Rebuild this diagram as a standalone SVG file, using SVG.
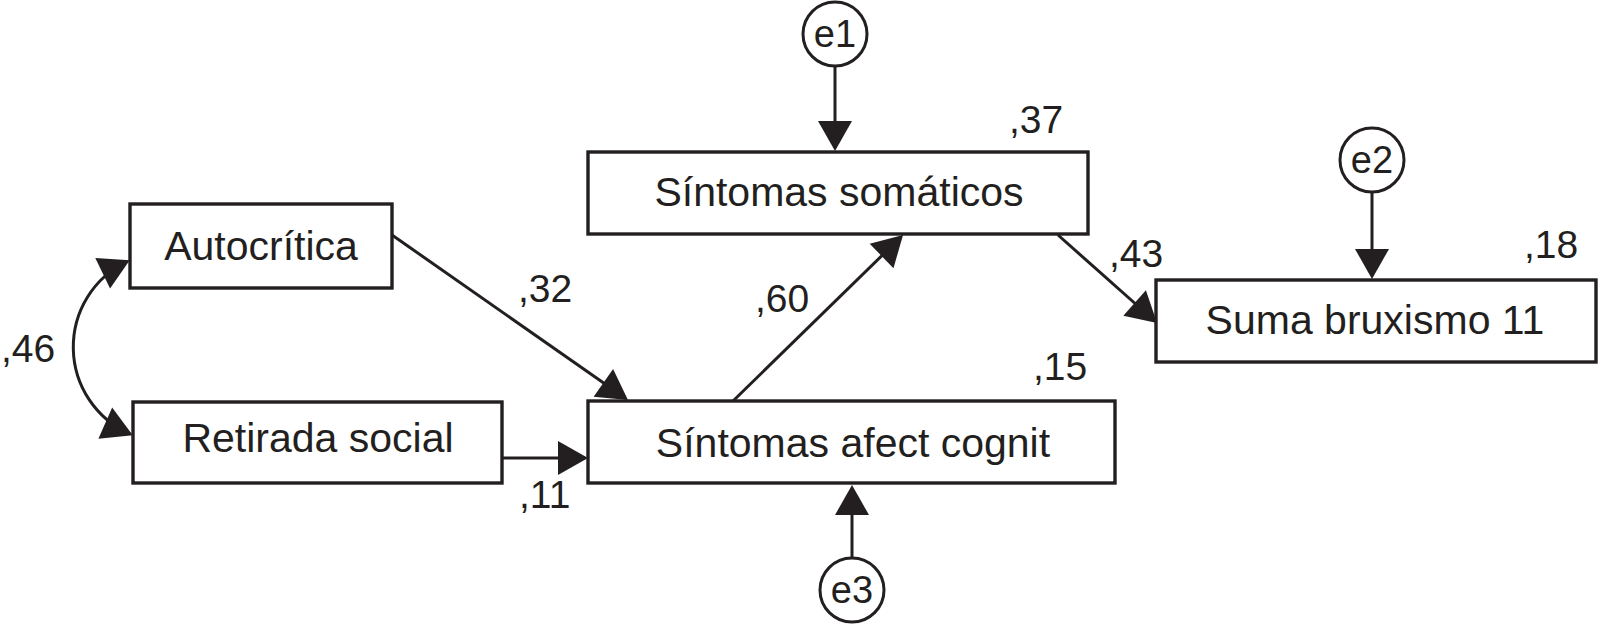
<svg xmlns="http://www.w3.org/2000/svg" width="1599" height="624" viewBox="0 0 1599 624">
<style>
.box{fill:#fff;stroke:#231f20;stroke-width:3.4}
.err{fill:#fff;stroke:#231f20;stroke-width:3}
.lbl{font-family:"Liberation Sans",Arial,sans-serif;font-size:41px;fill:#231f20;text-anchor:middle}
.elbl{font-family:"Liberation Sans",Arial,sans-serif;font-size:38px;fill:#231f20;text-anchor:middle}
.num{font-family:"Liberation Sans",Arial,sans-serif;font-size:39px;fill:#231f20}
.edge{fill:none;stroke:#231f20;stroke-width:3}
</style>
<defs>
<marker id="ah" markerUnits="userSpaceOnUse" markerWidth="30" markerHeight="34" viewBox="0 0 30 34" refX="27" refY="17" orient="auto-start-reverse" overflow="visible">
<path d="M0,0 L30,17 L0,34 Z" fill="#231f20"/>
</marker>
</defs>
<rect width="1599" height="624" fill="#fff"/>
<g id="connectors">
<path class="edge" d="M835,66 L835,148" marker-end="url(#ah)"/>
<path class="edge" d="M1372,192 L1372,276" marker-end="url(#ah)"/>
<path class="edge" d="M852,558 L852,488" marker-end="url(#ah)"/>
<path class="edge" d="M502,458 L585,458" marker-end="url(#ah)"/>
<path class="edge" d="M392,235 L625.5,398.3" marker-end="url(#ah)"/>
<path class="edge" d="M732,402 L900.9,237.1" marker-end="url(#ah)"/>
<path class="edge" d="M1058,235 L1154.8,321" marker-end="url(#ah)"/>
<path class="edge" d="M127,261.5 A95,95 0 0 0 130,434" marker-start="url(#ah)" marker-end="url(#ah)"/>
</g>
<g id="autocritica">
<rect class="box" x="130" y="204" width="262" height="84"/>
<text class="lbl" x="261" y="260">Autocrítica</text>
</g>
<g id="retirada">
<rect class="box" x="133" y="402" width="369" height="81"/>
<text class="lbl" x="318" y="452">Retirada social</text>
</g>
<g id="somaticos">
<rect class="box" x="588" y="152" width="500" height="82"/>
<text class="lbl" x="839" y="206">Síntomas somáticos</text>
</g>
<g id="afect">
<rect class="box" x="588" y="401" width="527" height="82"/>
<text class="lbl" x="853" y="457">Síntomas afect cognit</text>
</g>
<g id="suma">
<rect class="box" x="1156" y="280" width="440" height="82"/>
<text class="lbl" x="1375" y="334">Suma bruxismo 11</text>
</g>
<g id="e1">
<circle class="err" cx="835" cy="34" r="32"/>
<text class="elbl" x="835" y="47">e1</text>
</g>
<g id="e2">
<circle class="err" cx="1372" cy="160" r="32"/>
<text class="elbl" x="1372" y="173">e2</text>
</g>
<g id="e3">
<circle class="err" cx="852" cy="590" r="32"/>
<text class="elbl" x="852" y="603">e3</text>
</g>
<g id="labels">
<text class="num" x="1" y="362">,46</text>
<text class="num" x="518" y="302">,32</text>
<text class="num" x="519" y="508">,11</text>
<text class="num" x="755" y="312">,60</text>
<text class="num" x="1009" y="133">,37</text>
<text class="num" x="1109" y="267">,43</text>
<text class="num" x="1524" y="258">,18</text>
<text class="num" x="1033" y="380">,15</text>
</g>
</svg>
